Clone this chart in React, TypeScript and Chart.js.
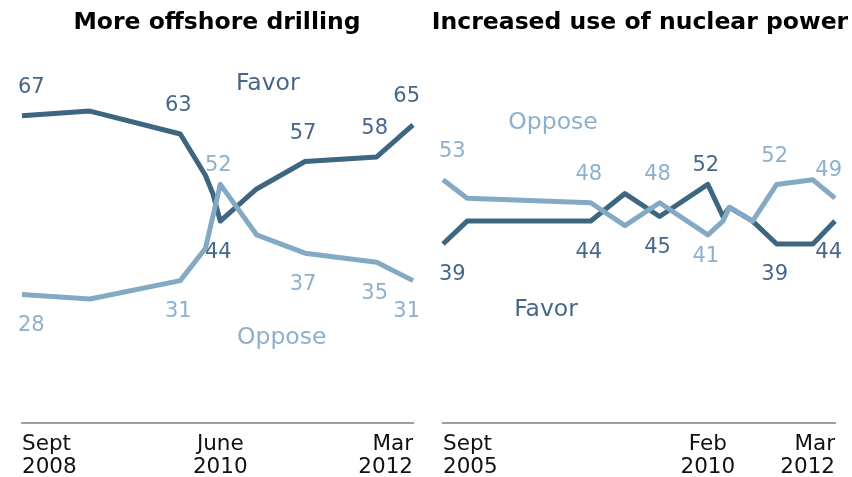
import React, { useEffect, useRef } from 'react';
import { Chart, registerables } from 'chart.js';

Chart.register(...registerables);

// ---------- Data ----------
// Left panel: More offshore drilling (x = months since Sept 2008)
const drillMonths = [0, 7.3, 17, 19.7, 20.5, 21.3, 25.2, 30.4, 38.1, 42];
const drillFavor = [67, 68, 63, 54, 50, 44, 51, 57, 58, 65];
const drillOppose = [28, 27, 31, 38, 45, 52, 41, 37, 35, 31];
const drillTickValues = [0, 21.3, 42];
const drillTickLabels = [['Sept', '2008'], ['June', '2010'], ['Mar', '2012']];

// Right panel: Increased use of nuclear power (x = months since Sept 2005)
const nukeMonths = [0, 4.8, 29.4, 36.2, 43.1, 52.7, 55.7, 57, 61.6, 66.4, 73.6, 78];
const nukeFavor = [39, 44, 44, 50, 45, 52, 45, 47, 44, 39, 39, 44];
const nukeOppose = [53, 49, 48, 43, 48, 41, 44, 47, 44, 52, 53, 49];
const nukeTickValues = [0, 52.7, 78];
const nukeTickLabels = [['Sept', '2005'], ['Feb', '2010'], ['Mar', '2012']];

// Which points carry a value label (style: where the label sits)
const drillFavorLabels = ['above', null, 'above', null, null, 'below', null, 'above', 'above', 'above'];
const drillOpposeLabels = ['below', null, 'below', null, null, 'aboveNear', null, 'below', 'below', 'below'];
const nukeFavorLabels = ['below', null, 'below', null, 'below', 'aboveNear', null, null, null, 'below', null, 'below'];
const nukeOpposeLabels = ['above', null, 'above', null, 'above', 'belowNear', null, null, null, 'above', null, 'above'];

// ---------- Style ----------
const FAVOR_LINE = '#3e6680';
const FAVOR_TEXT = '#46678a';
const OPPOSE_LINE = '#84a9c4';
const OPPOSE_TEXT = '#8db0cc';
const FONT = '"DejaVu Sans", Verdana, sans-serif';
const OFFSETS: Record<string, number> = { above: -28, below: 31, aboveNear: -19, belowNear: 22 };

const labelPlugin = {
  id: 'pointLabels',
  afterDatasetsDraw(chart: any, _args: any, opts: any) {
    const ctx = chart.ctx;
    ctx.save();
    ctx.textBaseline = 'middle';
    ctx.font = `21px ${FONT}`;
    chart.data.datasets.forEach((ds: any, di: number) => {
      const meta = chart.getDatasetMeta(di);
      const places = ds.labelPlaces || [];
      const last = meta.data.length - 1;
      ctx.fillStyle = ds.textColor;
      meta.data.forEach((pt: any, i: number) => {
        const p = places[i];
        if (!p) return;
        let dx = -2;
        ctx.textAlign = 'center';
        if (i === 0) { ctx.textAlign = 'left'; dx = -4; }
        else if (i === last) { ctx.textAlign = 'right'; dx = 7; }
        ctx.fillText(String(ds.data[i].y), pt.x + dx, pt.y + OFFSETS[p]);
      });
    });
    ctx.font = `23.5px ${FONT}`;
    ctx.textAlign = 'center';
    (opts.names || []).forEach((n: any) => {
      ctx.fillStyle = n.color;
      const x = chart.scales.x.getPixelForValue(n.x);
      const y = chart.scales.y.getPixelForValue(n.y);
      ctx.fillText(n.text, x, y);
    });
    // Panel title
    ctx.fillStyle = '#000';
    ctx.font = `bold 23.5px ${FONT}`;
    ctx.fillText(opts.title, chart.width / 2 + opts.titleDx, 23);
    ctx.restore();
  },
};

type PanelProps = {
  title: string;
  titleDx: number;
  months: number[];
  favor: number[];
  oppose: number[];
  favorLabels: (string | null)[];
  opposeLabels: (string | null)[];
  tickValues: number[];
  tickLabels: string[][];
  xMax: number;
  padLeft: number;
  padRight: number;
  names: { text: string; x: number; y: number; color: string }[];
  left: number;
};

function Panel(props: PanelProps) {
  const ref = useRef<HTMLCanvasElement>(null);
  useEffect(() => {
    if (!ref.current) return;
    const chart = new Chart(ref.current, {
      type: 'line',
      data: {
        datasets: [
          {
            label: 'Favor',
            data: props.months.map((m, i) => ({ x: m, y: props.favor[i] })),
            borderColor: FAVOR_LINE,
            borderWidth: 5,
            pointRadius: 0,
            tension: 0,
            borderJoinStyle: 'round',
            clip: false,
            order: 1,
            labelPlaces: props.favorLabels,
            textColor: FAVOR_TEXT,
          } as any,
          {
            label: 'Oppose',
            data: props.months.map((m, i) => ({ x: m, y: props.oppose[i] })),
            borderColor: OPPOSE_LINE,
            borderWidth: 5,
            pointRadius: 0,
            tension: 0,
            borderJoinStyle: 'round',
            clip: false,
            order: 0,
            labelPlaces: props.opposeLabels,
            textColor: OPPOSE_TEXT,
          } as any,
        ],
      },
      options: {
        animation: false,
        responsive: false,
        maintainAspectRatio: false,
        layout: { padding: { left: props.padLeft, right: props.padRight, top: 79, bottom: 0 } },
        plugins: {
          legend: { display: false },
          tooltip: { enabled: false },
          title: { display: false },
          pointLabels: { names: props.names, title: props.title, titleDx: props.titleDx },
        } as any,
        scales: {
          x: {
            type: 'linear',
            min: 0,
            max: props.xMax,
            grid: { display: false, drawTicks: false },
            border: { display: true, color: '#a0a0a0', width: 2 },
            afterBuildTicks: (axis: any) => {
              axis.ticks = props.tickValues.map((v) => ({ value: v }));
            },
            ticks: {
              autoSkip: false,
              maxRotation: 0,
              align: 'inner',
              padding: 11,
              color: '#111',
              font: { family: FONT, size: 21.5, lineHeight: 1.03 },
              callback: (_v: any, i: number) => props.tickLabels[i],
            },
          },
          y: {
            type: 'linear',
            display: false,
            min: 0,
            max: 75,
          },
        },
      },
      plugins: [labelPlugin],
    });
    return () => chart.destroy();
  }, []);
  return (
    <canvas
      ref={ref}
      width={426}
      height={489}
      style={{ position: 'absolute', left: props.left, top: 0, width: 426, height: 489 }}
    />
  );
}

export default function App() {
  return (
    <div style={{ position: 'absolute', left: 0, top: 0, width: 852, height: 477, overflow: 'hidden', background: '#fff' }}>
      <Panel
        title="More offshore drilling"
        titleDx={4}
        months={drillMonths}
        favor={drillFavor}
        oppose={drillOppose}
        favorLabels={drillFavorLabels}
        opposeLabels={drillOpposeLabels}
        tickValues={drillTickValues}
        tickLabels={drillTickLabels}
        xMax={42}
        padLeft={22}
        padRight={13}
        names={[
          { text: 'Favor', x: 26.4, y: 73.9, color: FAVOR_TEXT },
          { text: 'Oppose', x: 27.9, y: 18.5, color: OPPOSE_TEXT },
        ]}
        left={0}
      />
      <Panel
        title="Increased use of nuclear power"
        titleDx={1}
        months={nukeMonths}
        favor={nukeFavor}
        oppose={nukeOppose}
        favorLabels={nukeFavorLabels}
        opposeLabels={nukeOpposeLabels}
        tickValues={nukeTickValues}
        tickLabels={nukeTickLabels}
        xMax={78}
        padLeft={17}
        padRight={17}
        names={[
          { text: 'Oppose', x: 21.9, y: 65.4, color: OPPOSE_TEXT },
          { text: 'Favor', x: 20.5, y: 24.6, color: FAVOR_TEXT },
        ]}
        left={426}
      />
    </div>
  );
}
